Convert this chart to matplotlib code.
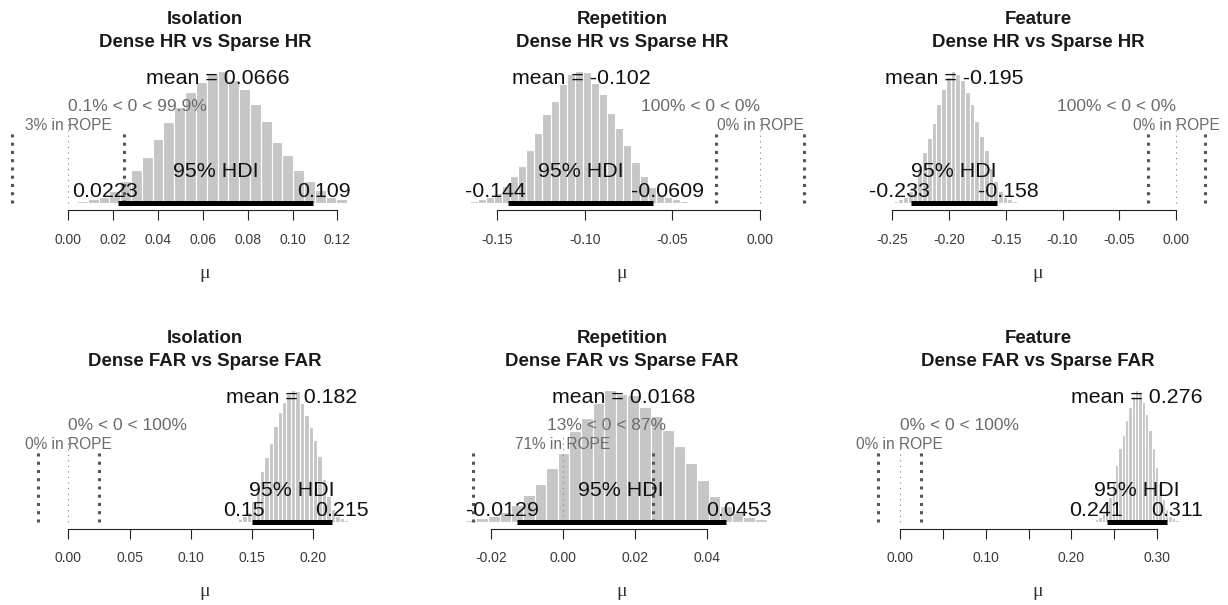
import numpy as np
import matplotlib
matplotlib.use("Agg")
import matplotlib.pyplot as plt
import matplotlib.transforms as mtransforms

plt.rcParams['font.family'] = ['Liberation Sans', 'DejaVu Sans']

# panel texts
titles_top = ['Isolation', 'Repetition', 'Feature', 'Isolation', 'Repetition', 'Feature']
titles_bot = ['Dense HR vs Sparse HR', 'Dense HR vs Sparse HR', 'Dense HR vs Sparse HR',
              'Dense FAR vs Sparse FAR', 'Dense FAR vs Sparse FAR', 'Dense FAR vs Sparse FAR']

# posterior summaries
means = [0.0666, -0.102, -0.195, 0.182, 0.0168, 0.276]
hdi_lo = [0.0223, -0.144, -0.233, 0.15, -0.0129, 0.241]
hdi_hi = [0.109, -0.0609, -0.158, 0.215, 0.0453, 0.311]
pct_lt = [0.1, 100, 100, 0, 13, 0]
pct_gt = [99.9, 0, 0, 100, 87, 100]
pct_rope = [3, 0, 0, 0, 71, 0]
comp_val = 0.0
rope = [-0.025, 0.025]

# histogram bins (first edge, width) and relative bar heights
bin_lo = [0.0039, -0.1658, -0.2527, 0.1348, -0.02728, 0.2235]
bin_w = [0.00482, 0.00462, 0.00417, 0.00361, 0.00323, 0.00389]
heights = [
    [0.015, 0.03, 0.05, 0.09, 0.17, 0.254, 0.351, 0.483, 0.611, 0.725, 0.840, 0.916, 0.975,
     1.0, 0.929, 0.865, 0.751, 0.618, 0.463, 0.364, 0.254, 0.17, 0.1, 0.05, 0.03, 0.012],
    [0.015, 0.03, 0.05, 0.08, 0.13, 0.203, 0.284, 0.405, 0.532, 0.671, 0.772, 0.904, 0.975,
     1.0, 0.992, 0.911, 0.823, 0.684, 0.570, 0.443, 0.316, 0.203, 0.12, 0.07, 0.05, 0.03, 0.015],
    [0.01, 0.02, 0.03, 0.05, 0.09, 0.15, 0.26, 0.39, 0.49, 0.61, 0.75, 0.86, 0.95,
     1.0, 0.98, 0.93, 0.84, 0.75, 0.62, 0.51, 0.40, 0.27, 0.17, 0.09, 0.05, 0.03, 0.015],
    [0.012, 0.025, 0.045, 0.08, 0.16, 0.27, 0.39, 0.49, 0.6, 0.73, 0.83, 0.91, 0.97,
     1.0, 0.99, 0.9, 0.81, 0.72, 0.62, 0.5, 0.33, 0.2, 0.1, 0.05, 0.03, 0.015],
    [0.015, 0.03, 0.05, 0.08, 0.13, 0.205, 0.29, 0.41, 0.525, 0.69, 0.79, 0.9, 1.0,
     0.97, 0.96, 0.87, 0.8, 0.7, 0.58, 0.45, 0.32, 0.2, 0.12, 0.07, 0.04, 0.025, 0.012],
    [0.012, 0.025, 0.04, 0.07, 0.13, 0.19, 0.3, 0.43, 0.56, 0.66, 0.77, 0.87, 0.95,
     1.0, 0.98, 0.91, 0.82, 0.7, 0.56, 0.42, 0.3, 0.18, 0.1, 0.05, 0.03, 0.015],
]

# x axes
xlims = [(-0.0282, 0.1479), (-0.1974, 0.0282), (-0.3101, 0.0373),
         (-0.0517, 0.2708), (-0.04134, 0.06857), (-0.0885, 0.3714)]
xticks = [[0.00, 0.02, 0.04, 0.06, 0.08, 0.10, 0.12],
          [-0.15, -0.10, -0.05, 0.00],
          [-0.25, -0.20, -0.15, -0.10, -0.05, 0.00],
          [0.00, 0.05, 0.10, 0.15, 0.20],
          [-0.02, 0.00, 0.02, 0.04],
          [0.00, 0.05, 0.10, 0.15, 0.20, 0.25, 0.30]]
xticklabels = [['0.00', '0.02', '0.04', '0.06', '0.08', '0.10', '0.12'],
               ['-0.15', '-0.10', '-0.05', '0.00'],
               ['-0.25', '-0.20', '-0.15', '-0.10', '-0.05', '0.00'],
               ['0.00', '0.05', '0.10', '0.15', '0.20'],
               ['-0.02', '0.00', '0.02', '0.04'],
               ['0.00', '', '0.10', '', '0.20', '', '0.30']]

W, H = 1228, 605
fig = plt.figure(figsize=(W / 100, H / 100), dpi=100)
renderer = fig.canvas.get_renderer()

bar_col = '#c6c6c6'
grey_txt = '#6b6b6b'
col_w = W / 3
title_x = [205, 622, 1038]
axis_y = [210, 529]
ybot, ytop = -0.05, 1.082


def adj_text(ax, x, y, s, hadj, dy, **kw):
    # R style fractional horizontal adjustment
    t = ax.text(x, y, s, ha='left', va='baseline', **kw)
    w = t.get_window_extent(renderer).width
    t.set_transform(mtransforms.offset_copy(ax.transData, fig=fig, x=-hadj * w, y=dy, units='dots'))
    return t


for i in range(6):
    row, col = divmod(i, 3)
    left = col * col_w + 5
    bottom = H - axis_y[row]
    ax = fig.add_axes([left / W, bottom / H, 395 / W, 150 / H])

    h = np.array(heights[i])
    edges = bin_lo[i] + bin_w[i] * np.arange(len(h))
    ax.bar(edges, h, width=bin_w[i], align='edge', color=bar_col,
           edgecolor='white', linewidth=0.8, zorder=1)
    hmax = h.max()

    # comparison value
    cv_ht = 0.7 * hmax
    ax.plot([comp_val, comp_val], [0, 0.96 * cv_ht], color='#808080', lw=0.8,
            linestyle=(0, (1, 4)), zorder=2)
    adj_text(ax, comp_val, cv_ht, f"{pct_lt[i]:g}% < 0 < {pct_gt[i]:g}%",
             pct_lt[i] / 100, 0, fontsize=12.5, color=grey_txt, zorder=4)

    # ROPE
    rope_ht = 0.55 * hmax
    for r in rope:
        ax.plot([r, r], [0, 0.96 * rope_ht], color='#555555', lw=2.2,
                linestyle=(0, (1, 1.7)), zorder=2)
    ax.text(np.mean(rope), rope_ht, f"{pct_rope[i]:g}% in ROPE", ha='center', va='baseline',
            fontsize=11.2, color=grey_txt, zorder=4)

    # mean
    ax.text(means[i], 0.9 * hmax, f"mean = {means[i]:g}", ha='center', va='baseline',
            fontsize=15.4, color='#111111', zorder=4)

    # HDI
    ax.plot([hdi_lo[i], hdi_hi[i]], [0, 0], color='black', lw=3.6,
            solid_capstyle='butt', zorder=3)
    adj_text(ax, (hdi_lo[i] + hdi_hi[i]) / 2, 0, "95% HDI", 0.5, 26.5,
             fontsize=15.4, color='#111111', zorder=4)
    adj_text(ax, hdi_lo[i], 0, f"{hdi_lo[i]:g}", 0.7, 6,
             fontsize=15.4, color='#111111', zorder=4)
    adj_text(ax, hdi_hi[i], 0, f"{hdi_hi[i]:g}", 0.3, 6,
             fontsize=15.4, color='#111111', zorder=4)

    ax.set_xlim(*xlims[i])
    ax.set_ylim(ybot, ytop)
    ax.set_yticks([])
    ax.set_xticks(xticks[i])
    ax.set_xticklabels(xticklabels[i])
    ax.tick_params(axis='x', length=7.2, width=0.8, pad=9, labelsize=10,
                   labelcolor='#3a3a3a', color='#222222')
    for s in ['left', 'right', 'top']:
        ax.spines[s].set_visible(False)
    ax.spines['bottom'].set_bounds(xticks[i][0], xticks[i][-1])
    ax.spines['bottom'].set_linewidth(0.8)
    ax.spines['bottom'].set_color('#222222')
    ax.patch.set_alpha(0)

    # titles and axis label
    tx = title_x[col] / W
    fig.text(tx, (H - (axis_y[row] - 193 + 6.7)) / H, titles_top[i], ha='center',
             va='baseline', fontsize=13.4, fontweight='bold', color='#1a1a1a')
    fig.text(tx, (H - (axis_y[row] - 170 + 6.7)) / H, titles_bot[i], ha='center',
             va='baseline', fontsize=13.4, fontweight='bold', color='#1a1a1a')
    fig.text(tx, (H - (axis_y[row] + 63)) / H, 'μ', ha='center', va='center',
             fontsize=14, color='#333333', family=['Liberation Serif', 'DejaVu Serif'])

fig.savefig('out.png', dpi=100)
